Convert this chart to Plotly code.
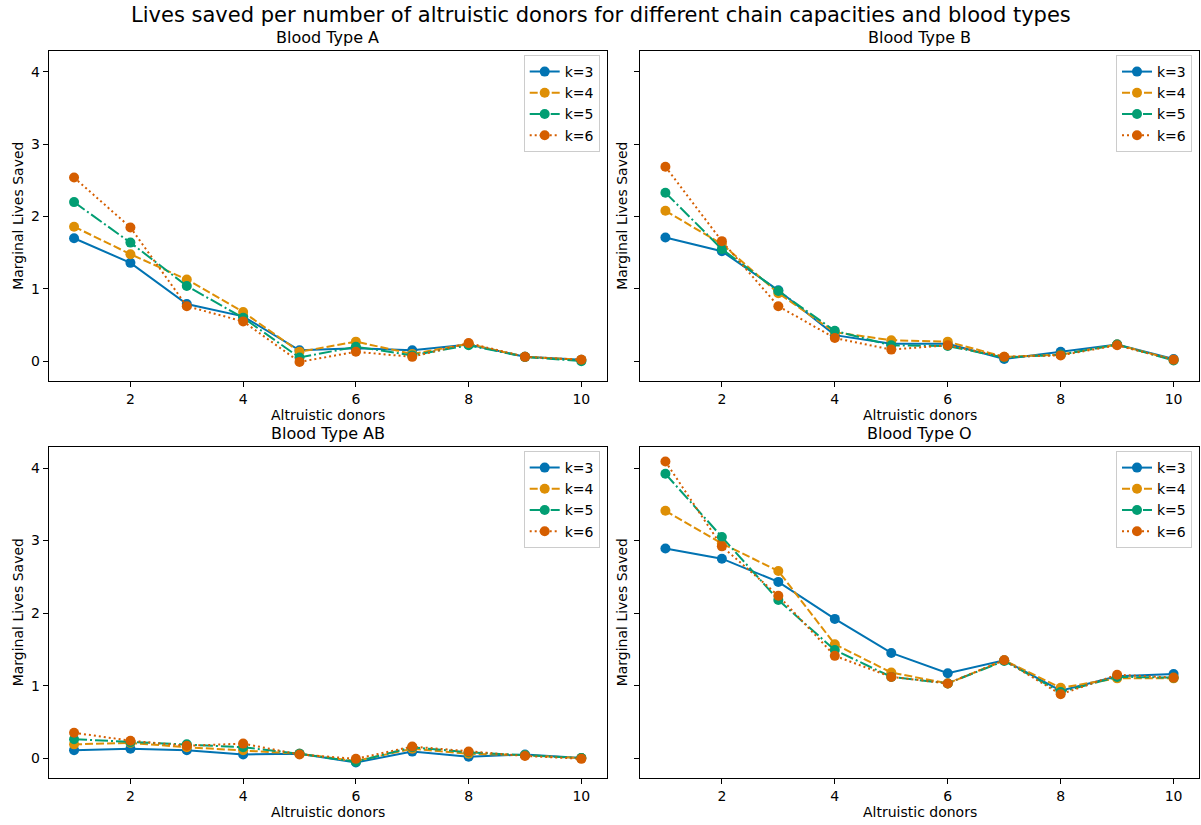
import plotly.graph_objects as go

donors = [1, 2, 3, 4, 5, 6, 7, 8, 9, 10]
k_labels = ["k=3", "k=4", "k=5", "k=6"]
blood_types = ["A", "B", "AB", "O"]

A_k3 = [1.70, 1.36, 0.79, 0.62, 0.15, 0.18, 0.15, 0.23, 0.06, 0.02]
A_k4 = [1.86, 1.48, 1.13, 0.68, 0.13, 0.27, 0.10, 0.24, 0.06, 0.02]
A_k5 = [2.20, 1.64, 1.04, 0.60, 0.05, 0.20, 0.08, 0.22, 0.06, 0.00]
A_k6 = [2.54, 1.85, 0.76, 0.55, -0.01, 0.13, 0.06, 0.25, 0.06, 0.02]

B_k3 = [1.71, 1.52, 0.98, 0.36, 0.24, 0.24, 0.03, 0.13, 0.23, 0.03]
B_k4 = [2.08, 1.62, 0.94, 0.40, 0.29, 0.27, 0.06, 0.09, 0.23, 0.02]
B_k5 = [2.33, 1.55, 0.97, 0.42, 0.22, 0.21, 0.05, 0.09, 0.23, 0.01]
B_k6 = [2.69, 1.66, 0.76, 0.32, 0.16, 0.22, 0.06, 0.08, 0.22, 0.02]

AB_k3 = [0.11, 0.13, 0.11, 0.05, 0.06, -0.06, 0.09, 0.02, 0.05, 0.00]
AB_k4 = [0.19, 0.21, 0.15, 0.11, 0.06, -0.04, 0.13, 0.06, 0.04, 0.00]
AB_k5 = [0.26, 0.22, 0.19, 0.15, 0.06, -0.05, 0.15, 0.08, 0.04, 0.00]
AB_k6 = [0.35, 0.24, 0.17, 0.20, 0.05, -0.01, 0.16, 0.09, 0.03, -0.01]

O_k3 = [2.89, 2.75, 2.43, 1.92, 1.45, 1.17, 1.35, 0.93, 1.13, 1.16]
O_k4 = [3.41, 2.96, 2.58, 1.57, 1.18, 1.03, 1.35, 0.97, 1.10, 1.10]
O_k5 = [3.92, 3.05, 2.18, 1.49, 1.12, 1.03, 1.34, 0.91, 1.12, 1.11]
O_k6 = [4.09, 2.92, 2.24, 1.41, 1.12, 1.03, 1.35, 0.88, 1.15, 1.11]

x_ticks = [2, 4, 6, 8, 10]
y_ticks = [0, 1, 2, 3, 4]

series = {
    "A": [A_k3, A_k4, A_k5, A_k6],
    "B": [B_k3, B_k4, B_k5, B_k6],
    "AB": [AB_k3, AB_k4, AB_k5, AB_k6],
    "O": [O_k3, O_k4, O_k5, O_k6],
}

colors = ["#0173b2", "#de8f05", "#029e73", "#d55e00"]
dashes = ["solid", "8px,3px", "13px,3px,2px,3px", "2px,3px"]
FONT = "DejaVu Sans"
W, H = 1201, 825

# panel pixel boxes (left, top, right, bottom)
boxes = [(48.7, 51, 606.7, 380.7), (640, 51, 1199, 380.7),
         (48.7, 447, 606.7, 777.7), (640, 447, 1199, 777.7)]

fig = go.Figure()
layout = dict(
    width=W, height=H, margin=dict(l=0, r=0, t=0, b=0),
    paper_bgcolor="white", plot_bgcolor="white",
    font=dict(family=FONT, size=14, color="black"),
    annotations=[], showlegend=True,
)

for i, bt in enumerate(blood_types):
    l, t, r, b = boxes[i]
    sfx = "" if i == 0 else str(i + 1)
    leg = "legend" if i == 0 else "legend" + str(i + 1)
    for j, vals in enumerate(series[bt]):
        fig.add_trace(go.Scatter(
            x=donors, y=vals, mode="lines+markers", name=k_labels[j],
            line=dict(color=colors[j], width=2, dash=dashes[j]),
            marker=dict(color=colors[j], size=10),
            xaxis="x" + sfx, yaxis="y" + sfx, legend=leg,
        ))
    axcommon = dict(showline=True, mirror=True, linecolor="black", linewidth=1,
                    ticks="outside", ticklen=5, tickcolor="black", tickwidth=1,
                    showgrid=False, zeroline=False,
                    tickfont=dict(family=FONT, size=14, color="black"))
    layout["xaxis" + sfx] = dict(axcommon, domain=[l / W, r / W], range=[0.55, 10.45],
                                 tickvals=x_ticks, anchor="y" + sfx)
    layout["yaxis" + sfx] = dict(axcommon, domain=[1 - b / H, 1 - t / H], range=[-0.27, 4.29],
                                 tickvals=y_ticks, anchor="x" + sfx,
                                 showticklabels=(i % 2 == 0))
    layout[leg] = dict(
        x=(r - 7) / W, y=1 - (t + 4) / H, xanchor="right", yanchor="top",
        xref="paper", yref="paper",
        bgcolor="rgba(255,255,255,0.8)", bordercolor="#cccccc", borderwidth=1,
        font=dict(family=FONT, size=14, color="black"), itemwidth=30,
        tracegroupgap=0,
    )
    cx = (l + r) / 2
    layout["annotations"].append(dict(
        text="Blood Type " + bt, x=cx / W, y=1 - (t - 13) / H, xref="paper", yref="paper",
        showarrow=False, xanchor="center", yanchor="middle",
        font=dict(family=FONT, size=16, color="black")))
    layout["annotations"].append(dict(
        text="Altruistic donors", x=cx / W, y=1 - (b + 34) / H, xref="paper", yref="paper",
        showarrow=False, xanchor="center", yanchor="middle",
        font=dict(family=FONT, size=14, color="black")))
    ylx = 18 if i % 2 == 0 else l - 18
    layout["annotations"].append(dict(
        text="Marginal Lives Saved", x=ylx / W, y=1 - ((t + b) / 2) / H,
        xref="paper", yref="paper", textangle=-90,
        showarrow=False, xanchor="center", yanchor="middle",
        font=dict(family=FONT, size=14, color="black")))

layout["annotations"].append(dict(
    text="Lives saved per number of altruistic donors for different chain capacities and blood types",
    x=0.5, y=1 - 15 / H, xref="paper", yref="paper", showarrow=False,
    xanchor="center", yanchor="middle", font=dict(family=FONT, size=21, color="black")))

fig.update_layout(**layout)
fig.write_html(
    "out.html",
    config={"displayModeBar": False},
    post_script="document.body.style.margin='0';document.body.style.overflow='hidden';",
)
